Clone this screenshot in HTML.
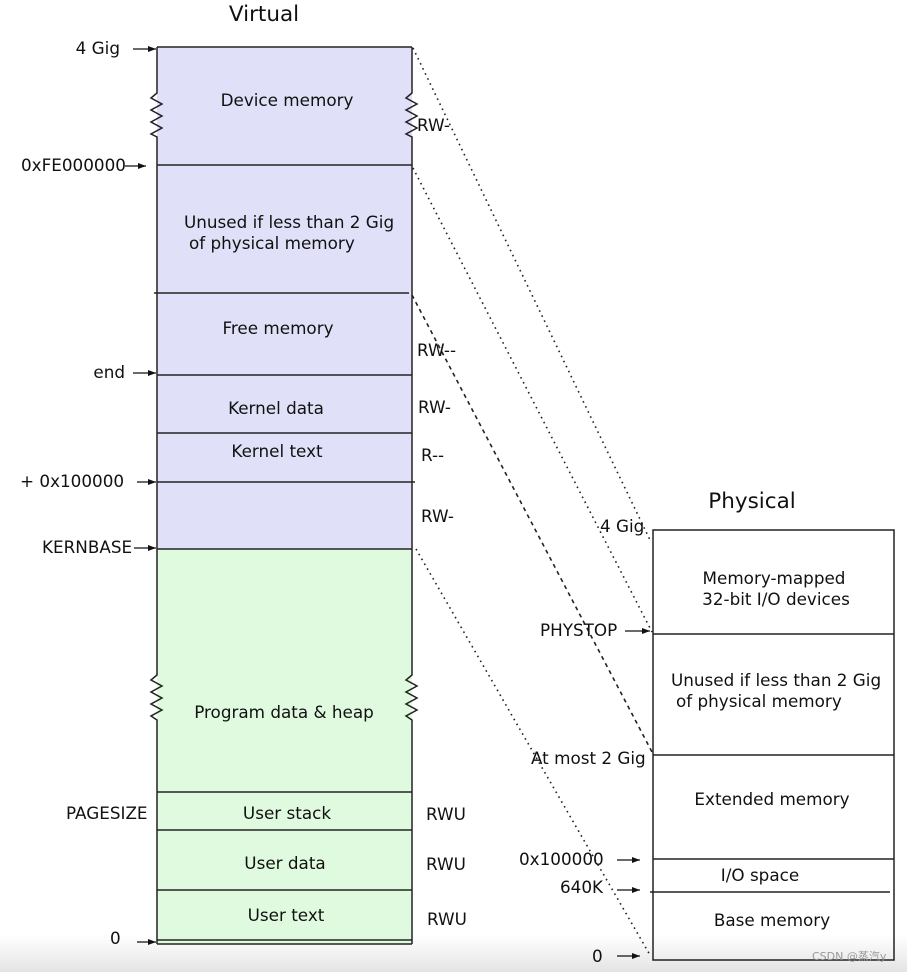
<!DOCTYPE html>
<html><head><meta charset="utf-8"><style>
html,body{margin:0;padding:0;background:#fff;}
svg{display:block;}
text{font-family:"DejaVu Sans","Liberation Sans",sans-serif;font-size:16.8px;fill:#111;}
</style></head><body>
<svg width="907" height="972" viewBox="0 0 907 972" xmlns="http://www.w3.org/2000/svg">
<defs>
<linearGradient id="bg" x1="0" y1="0" x2="0" y2="1"><stop offset="0" stop-color="#fff"/><stop offset="1" stop-color="#e4e4e4"/></linearGradient>
<marker id="ar" markerWidth="8" markerHeight="6" refX="8" refY="3" orient="auto" markerUnits="userSpaceOnUse"><path d="M0,0 L8,3 L0,6 z" fill="#111"/></marker>
</defs>
<rect x="0" y="935" width="907" height="37" fill="url(#bg)"/>
<rect x="157" y="47" width="255" height="502" fill="#e0e0f8"/>
<rect x="157" y="549" width="255" height="395" fill="#e0fae0"/>
<g stroke="#222" stroke-width="1.5" fill="none">
<line x1="157" y1="47" x2="412" y2="47"/>
<polyline points="157,47 157,93 151,98 162,104 151,110 162,116 151,122 162,128 151,134 157,137 157,675 151,680 162,686 151,692 162,698 151,704 162,710 151,716 157,720 157,944"/>
<polyline points="412,47 412,93 406,98 417,104 406,110 417,116 406,122 417,128 406,134 412,137 412,675 406,680 417,686 406,692 417,698 406,704 417,710 406,716 412,720 412,944"/>
<line x1="157" y1="165" x2="412" y2="165"/>
<line x1="154" y1="293" x2="409" y2="293"/>
<line x1="157" y1="375" x2="412" y2="375"/>
<line x1="157" y1="433" x2="412" y2="433"/>
<line x1="157" y1="482" x2="415" y2="482"/>
<line x1="157" y1="549" x2="412" y2="549"/>
<line x1="157" y1="792" x2="412" y2="792"/>
<line x1="157" y1="830" x2="412" y2="830"/>
<line x1="157" y1="890" x2="412" y2="890"/>
<line x1="157" y1="940" x2="412" y2="940"/>
<line x1="157" y1="944" x2="412" y2="944"/>
<rect x="653" y="530" width="241" height="430"/>
<line x1="653" y1="634" x2="894" y2="634"/>
<line x1="653" y1="755" x2="894" y2="755"/>
<line x1="653" y1="859" x2="894" y2="859"/>
<line x1="650" y1="892" x2="890" y2="892"/>
</g>
<g stroke="#222" stroke-width="1.6" fill="none">
<line x1="413" y1="48" x2="650" y2="540" stroke-dasharray="1.6,4"/>
<line x1="413" y1="168" x2="652" y2="632" stroke-dasharray="1.6,4"/>
<line x1="412" y1="295" x2="652" y2="752" stroke-dasharray="4,4"/>
<line x1="416" y1="549" x2="650" y2="955" stroke-dasharray="1.6,4"/>
</g>
<g stroke="#111" stroke-width="1.2" marker-end="url(#ar)">
<line x1="133" y1="49" x2="156" y2="49"/>
<line x1="125" y1="166" x2="146" y2="166"/>
<line x1="133" y1="373" x2="156" y2="373"/>
<line x1="137" y1="482" x2="156" y2="482"/>
<line x1="134" y1="548" x2="156" y2="548"/>
<line x1="137" y1="942" x2="156" y2="942"/>
<line x1="625" y1="631" x2="650" y2="631"/>
<line x1="617" y1="860" x2="640" y2="860"/>
<line x1="617" y1="890" x2="640" y2="890"/>
<line x1="617" y1="956" x2="640" y2="956"/>
</g>
<text x="264" y="21" text-anchor="middle" style="font-size:21.5px">Virtual</text>
<text x="752" y="508" text-anchor="middle" style="font-size:21.5px">Physical</text>
<text x="120" y="54" text-anchor="end">4 Gig</text>
<text x="21" y="171">0xFE000000</text>
<text x="125" y="378" text-anchor="end">end</text>
<text x="20" y="487">+ 0x100000</text>
<text x="42" y="553">KERNBASE</text>
<text x="66" y="819">PAGESIZE</text>
<text x="110" y="944">0</text>
<text x="287" y="106" text-anchor="middle">Device memory</text>
<text x="184" y="228">Unused if less than 2 Gig</text>
<text x="189" y="249">of physical memory</text>
<text x="278" y="334" text-anchor="middle">Free memory</text>
<text x="276" y="414" text-anchor="middle">Kernel data</text>
<text x="277" y="457" text-anchor="middle">Kernel text</text>
<text x="284" y="718" text-anchor="middle">Program data &amp; heap</text>
<text x="287" y="819" text-anchor="middle">User stack</text>
<text x="285" y="869" text-anchor="middle">User data</text>
<text x="286" y="921" text-anchor="middle">User text</text>
<text x="417" y="131">RW-</text>
<text x="417" y="356">RW--</text>
<text x="418" y="413">RW-</text>
<text x="421" y="461">R--</text>
<text x="421" y="522">RW-</text>
<text x="426" y="820">RWU</text>
<text x="426" y="870">RWU</text>
<text x="427" y="925">RWU</text>
<text x="600" y="532">4 Gig</text>
<text x="540" y="636">PHYSTOP</text>
<text x="531" y="764">At most 2 Gig</text>
<text x="519" y="865">0x100000</text>
<text x="560" y="893">640K</text>
<text x="592" y="962">0</text>
<text x="774" y="584" text-anchor="middle">Memory-mapped</text>
<text x="776" y="605" text-anchor="middle">32-bit I/O devices</text>
<text x="671" y="686">Unused if less than 2 Gig</text>
<text x="676" y="707">of physical memory</text>
<text x="772" y="805" text-anchor="middle">Extended memory</text>
<text x="760" y="881" text-anchor="middle">I/O space</text>
<text x="772" y="926" text-anchor="middle">Base memory</text>
<text x="812" y="960" style="font-size:11px;fill:#999">CSDN @蒸汽y</text>
</svg>
</body></html>
